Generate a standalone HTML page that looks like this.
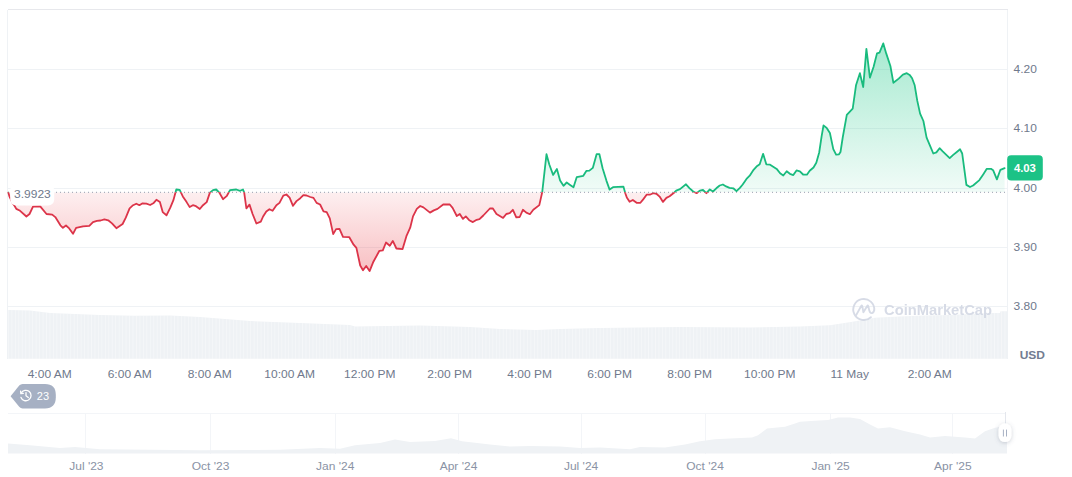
<!DOCTYPE html>
<html><head><meta charset="utf-8"><title>Chart</title>
<style>
html,body{margin:0;padding:0;background:#fff;}
body{width:1072px;height:477px;overflow:hidden;font-family:"Liberation Sans",sans-serif;}
svg{display:block;font-family:"Liberation Sans",sans-serif;}
</style></head><body>
<svg width="1072" height="477" viewBox="0 0 1072 477">
<defs>
<linearGradient id="gg" x1="0" y1="43" x2="0" y2="192.3" gradientUnits="userSpaceOnUse">
<stop offset="0" stop-color="#16c784" stop-opacity="0.38"/><stop offset="1" stop-color="#16c784" stop-opacity="0.06"/></linearGradient>
<linearGradient id="rg" x1="0" y1="192.3" x2="0" y2="272" gradientUnits="userSpaceOnUse">
<stop offset="0" stop-color="#ea3943" stop-opacity="0.08"/><stop offset="1" stop-color="#ea3943" stop-opacity="0.32"/></linearGradient>
<clipPath id="up"><rect x="0" y="0" width="1072" height="192.3"/></clipPath>
<clipPath id="dn"><rect x="0" y="192.3" width="1072" height="200"/></clipPath>
<pattern id="vb" width="3.46" height="60" patternUnits="userSpaceOnUse" x="8"><rect x="0" y="0" width="0.7" height="60" fill="#fff" fill-opacity="0.45"/></pattern>
<filter id="lb" x="-20%" y="-30%" width="140%" height="160%"><feGaussianBlur stdDeviation="0.7"/></filter>
<filter id="sh" x="-100%" y="-100%" width="300%" height="300%"><feDropShadow dx="0" dy="1" stdDeviation="2" flood-color="#58667e" flood-opacity="0.3"/></filter>
</defs>
<rect width="1072" height="477" fill="#fff"/>
<!-- frame + grid -->
<g stroke="#eff2f5" stroke-width="1" shape-rendering="crispEdges">
<line x1="7.5" y1="9.5" x2="1008" y2="9.5" stroke="#e7e8ec"/>
<line x1="7.5" y1="9.5" x2="7.5" y2="359"/>
<line x1="1007.5" y1="9.5" x2="1007.5" y2="359"/>
<line x1="8" y1="69.5" x2="1007.5" y2="69.5"/><line x1="8" y1="128.5" x2="1007.5" y2="128.5"/><line x1="8" y1="188.5" x2="1007.5" y2="188.5"/><line x1="8" y1="247.5" x2="1007.5" y2="247.5"/><line x1="8" y1="306.5" x2="1007.5" y2="306.5"/>
</g>
<!-- volume -->
<path d="M8,358.8 L8,310 L30,310.5 L50,313 L100,315 L134,315.7 L170,315.5 L200,317 L250,321 L300,323 L350,325 L355,326.5 L420,325.5 L470,327 L500,329 L536,330 L560,329 L600,328 L680,327 L750,327.5 L800,326.5 L830,325.3 L851,322 L875,317.7 L900,316.5 L925,315.6 L950,315 L991,313 L1000,313 L1000.5,311.2 L1007,311.2 L1007,358.8 Z" fill="#eff2f5"/>
<path d="M8,358.8 L8,310 L30,310.5 L50,313 L100,315 L134,315.7 L170,315.5 L200,317 L250,321 L300,323 L350,325 L355,326.5 L420,325.5 L470,327 L500,329 L536,330 L560,329 L600,328 L680,327 L750,327.5 L800,326.5 L830,325.3 L851,322 L875,317.7 L900,316.5 L925,315.6 L950,315 L991,313 L1000,313 L1000.5,311.2 L1007,311.2 L1007,358.8 Z" fill="url(#vb)"/>
<!-- watermark -->
<g id="wm" opacity="0.9">
<path d="M874.25,310.3 A10.5,10.5 0 1 0 870.9,317.2" fill="none" stroke="#d3d8e4" stroke-width="1.9" stroke-linecap="round"/>
<path d="M856.3,314.9 L861.2,306 Q861.9,304.9 862.3,306.2 L863.4,312.3 L867.2,306 Q867.9,304.9 868.3,306.2 L869.3,310.6 Q870.2,313.6 872.2,313 Q873.8,312.4 874.25,310.3" fill="none" stroke="#d3d8e4" stroke-width="1.9" stroke-linecap="round" stroke-linejoin="round"/>
<text x="884" y="315.3" font-size="14.6" font-weight="700" fill="#d3d8e4" textLength="108" lengthAdjust="spacingAndGlyphs">CoinMarketCap</text>
</g>
<!-- area fills -->
<path d="M8.3,192.3 L8.3,192.6 L9.4,196.3 L12.0,202.0 L14.8,206.2 L16.3,208.9 L20.1,210.8 L26.4,216.5 L29.5,214.0 L33.0,206.7 L40.2,206.4 L46.5,214.0 L52.2,214.6 L55.3,217.1 L60.4,225.3 L62.9,227.8 L66.0,225.5 L69.2,228.4 L73.0,233.8 L76.1,227.8 L83.0,226.3 L89.3,225.9 L93.0,222.1 L96.9,220.9 L100.6,220.5 L104.4,219.4 L108.2,220.3 L112.0,223.4 L116.4,228.2 L122.6,224.0 L125.8,217.7 L129.6,208.3 L133.1,205.2 L136.3,203.7 L139.4,205.2 L142.6,203.3 L146.4,203.7 L150.1,205.0 L153.3,203.3 L156.4,199.8 L159.9,202.1 L162.7,212.1 L166.5,215.3 L170.3,207.7 L173.4,200.2 L176.3,189.5 L179.7,189.9 L182.8,196.4 L186.6,202.1 L189.7,207.1 L192.9,205.2 L196.0,206.2 L199.8,209.0 L203.0,205.2 L206.7,202.1 L209.9,192.6 L213.0,190.1 L216.2,189.5 L219.3,192.6 L223.1,199.2 L226.9,195.8 L230.0,190.1 L236.3,189.5 L240.1,190.8 L243.0,189.5 L244.2,192.6 L246.4,208.4 L249.5,204.6 L252.6,214.0 L256.4,223.5 L260.8,221.6 L263.1,216.5 L266.3,211.4 L269.4,209.2 L272.6,210.8 L276.4,205.2 L279.5,202.9 L283.3,195.7 L286.4,194.5 L289.6,197.6 L293.0,205.8 L296.5,201.1 L300.3,198.2 L303.4,195.1 L306.5,195.5 L310.3,197.0 L313.5,197.9 L316.6,202.9 L320.1,204.5 L323.5,211.4 L326.7,212.1 L329.8,218.4 L333.2,234.1 L336.1,229.1 L339.5,228.8 L343.0,236.9 L349.3,237.2 L353.6,244.7 L356.4,247.9 L360.2,265.5 L363.0,270.2 L366.2,266.0 L369.6,271.1 L373.4,261.7 L379.4,250.8 L382.8,250.4 L386.0,242.5 L389.8,245.7 L392.8,240.9 L396.4,248.5 L402.6,249.1 L406.4,236.2 L410.2,227.7 L413.0,216.4 L416.8,208.9 L420.2,206.0 L423.4,207.4 L430.0,212.6 L433.8,210.4 L437.5,208.9 L443.2,204.5 L449.8,204.5 L452.6,207.9 L456.8,216.0 L459.8,214.0 L463.0,218.9 L465.8,216.4 L469.2,220.2 L472.9,222.1 L476.7,219.8 L479.5,219.2 L483.3,215.5 L489.9,208.5 L492.7,208.3 L496.5,214.0 L503.1,217.9 L506.3,214.0 L509.7,213.2 L512.9,209.8 L516.3,217.4 L519.7,217.0 L522.9,209.8 L526.3,212.6 L529.9,214.2 L533.3,209.8 L539.3,205.1 L542.2,192.3 L546.5,154.2 L549.3,164.5 L553.1,174.9 L556.9,168.9 L560.1,180.6 L563.5,185.8 L566.7,182.5 L570.1,184.9 L573.5,187.2 L576.7,177.2 L583.3,175.8 L586.5,170.8 L589.4,170.6 L592.8,167.9 L596.6,154.2 L599.4,154.2 L602.6,168.3 L606.4,180.6 L609.6,189.6 L613.0,187.2 L623.4,186.6 L625.3,193.2 L626.8,197.5 L629.6,201.7 L632.8,200.0 L636.6,202.8 L640.4,202.8 L643.2,199.4 L646.6,194.7 L649.8,194.7 L653.2,193.2 L656.4,193.8 L659.6,196.6 L663.0,201.9 L666.4,197.9 L669.6,196.2 L674.3,192.5 L676.2,190.6 L680.0,189.1 L686.0,184.3 L689.4,188.1 L693.2,191.5 L696.6,193.2 L699.8,190.6 L703.0,190.0 L706.4,193.2 L709.8,189.4 L713.0,191.5 L716.3,188.3 L719.7,185.5 L722.9,184.5 L726.1,186.4 L729.5,187.9 L733.3,188.3 L736.5,191.1 L739.9,187.9 L742.7,184.5 L746.5,178.9 L749.7,175.7 L753.1,170.4 L756.5,166.6 L759.7,164.3 L763.1,153.8 L766.3,164.3 L770.1,164.7 L776.7,168.9 L780.1,173.2 L783.3,175.5 L786.7,171.3 L789.9,173.8 L793.3,175.1 L796.5,170.4 L799.9,171.3 L803.1,174.5 L806.9,174.7 L809.7,170.8 L813.5,167.5 L816.3,162.8 L819.2,152.5 L821.6,136.4 L823.5,125.5 L826.7,127.9 L829.9,133.0 L833.3,149.1 L836.1,154.7 L839.0,154.3 L840.5,152.0 L842.8,137.0 L846.8,114.9 L852.7,108.7 L856.0,85.3 L859.9,73.2 L863.2,87.0 L866.4,48.9 L869.9,77.7 L873.6,66.8 L877.0,53.4 L879.5,52.6 L883.3,43.4 L886.2,53.4 L890.4,66.0 L893.4,82.8 L898.7,78.6 L902.9,74.7 L906.8,73.2 L909.6,74.9 L912.1,78.2 L914.7,85.3 L917.2,100.4 L920.1,113.6 L923.4,121.0 L926.6,137.7 L930.2,146.1 L933.3,153.5 L936.4,152.4 L939.6,148.2 L942.7,151.4 L949.7,158.1 L953.2,154.9 L956.8,152.0 L960.1,149.3 L962.2,153.5 L964.3,169.2 L966.4,184.9 L970.0,187.0 L973.1,185.5 L979.4,180.1 L983.2,174.4 L986.8,168.8 L991.0,168.8 L993.1,170.2 L996.9,179.4 L1000.4,169.8 L1004.6,168.1 L1004.6,192.3 Z" fill="url(#gg)" clip-path="url(#up)"/>
<path d="M8.3,192.3 L8.3,192.6 L9.4,196.3 L12.0,202.0 L14.8,206.2 L16.3,208.9 L20.1,210.8 L26.4,216.5 L29.5,214.0 L33.0,206.7 L40.2,206.4 L46.5,214.0 L52.2,214.6 L55.3,217.1 L60.4,225.3 L62.9,227.8 L66.0,225.5 L69.2,228.4 L73.0,233.8 L76.1,227.8 L83.0,226.3 L89.3,225.9 L93.0,222.1 L96.9,220.9 L100.6,220.5 L104.4,219.4 L108.2,220.3 L112.0,223.4 L116.4,228.2 L122.6,224.0 L125.8,217.7 L129.6,208.3 L133.1,205.2 L136.3,203.7 L139.4,205.2 L142.6,203.3 L146.4,203.7 L150.1,205.0 L153.3,203.3 L156.4,199.8 L159.9,202.1 L162.7,212.1 L166.5,215.3 L170.3,207.7 L173.4,200.2 L176.3,189.5 L179.7,189.9 L182.8,196.4 L186.6,202.1 L189.7,207.1 L192.9,205.2 L196.0,206.2 L199.8,209.0 L203.0,205.2 L206.7,202.1 L209.9,192.6 L213.0,190.1 L216.2,189.5 L219.3,192.6 L223.1,199.2 L226.9,195.8 L230.0,190.1 L236.3,189.5 L240.1,190.8 L243.0,189.5 L244.2,192.6 L246.4,208.4 L249.5,204.6 L252.6,214.0 L256.4,223.5 L260.8,221.6 L263.1,216.5 L266.3,211.4 L269.4,209.2 L272.6,210.8 L276.4,205.2 L279.5,202.9 L283.3,195.7 L286.4,194.5 L289.6,197.6 L293.0,205.8 L296.5,201.1 L300.3,198.2 L303.4,195.1 L306.5,195.5 L310.3,197.0 L313.5,197.9 L316.6,202.9 L320.1,204.5 L323.5,211.4 L326.7,212.1 L329.8,218.4 L333.2,234.1 L336.1,229.1 L339.5,228.8 L343.0,236.9 L349.3,237.2 L353.6,244.7 L356.4,247.9 L360.2,265.5 L363.0,270.2 L366.2,266.0 L369.6,271.1 L373.4,261.7 L379.4,250.8 L382.8,250.4 L386.0,242.5 L389.8,245.7 L392.8,240.9 L396.4,248.5 L402.6,249.1 L406.4,236.2 L410.2,227.7 L413.0,216.4 L416.8,208.9 L420.2,206.0 L423.4,207.4 L430.0,212.6 L433.8,210.4 L437.5,208.9 L443.2,204.5 L449.8,204.5 L452.6,207.9 L456.8,216.0 L459.8,214.0 L463.0,218.9 L465.8,216.4 L469.2,220.2 L472.9,222.1 L476.7,219.8 L479.5,219.2 L483.3,215.5 L489.9,208.5 L492.7,208.3 L496.5,214.0 L503.1,217.9 L506.3,214.0 L509.7,213.2 L512.9,209.8 L516.3,217.4 L519.7,217.0 L522.9,209.8 L526.3,212.6 L529.9,214.2 L533.3,209.8 L539.3,205.1 L542.2,192.3 L546.5,154.2 L549.3,164.5 L553.1,174.9 L556.9,168.9 L560.1,180.6 L563.5,185.8 L566.7,182.5 L570.1,184.9 L573.5,187.2 L576.7,177.2 L583.3,175.8 L586.5,170.8 L589.4,170.6 L592.8,167.9 L596.6,154.2 L599.4,154.2 L602.6,168.3 L606.4,180.6 L609.6,189.6 L613.0,187.2 L623.4,186.6 L625.3,193.2 L626.8,197.5 L629.6,201.7 L632.8,200.0 L636.6,202.8 L640.4,202.8 L643.2,199.4 L646.6,194.7 L649.8,194.7 L653.2,193.2 L656.4,193.8 L659.6,196.6 L663.0,201.9 L666.4,197.9 L669.6,196.2 L674.3,192.5 L676.2,190.6 L680.0,189.1 L686.0,184.3 L689.4,188.1 L693.2,191.5 L696.6,193.2 L699.8,190.6 L703.0,190.0 L706.4,193.2 L709.8,189.4 L713.0,191.5 L716.3,188.3 L719.7,185.5 L722.9,184.5 L726.1,186.4 L729.5,187.9 L733.3,188.3 L736.5,191.1 L739.9,187.9 L742.7,184.5 L746.5,178.9 L749.7,175.7 L753.1,170.4 L756.5,166.6 L759.7,164.3 L763.1,153.8 L766.3,164.3 L770.1,164.7 L776.7,168.9 L780.1,173.2 L783.3,175.5 L786.7,171.3 L789.9,173.8 L793.3,175.1 L796.5,170.4 L799.9,171.3 L803.1,174.5 L806.9,174.7 L809.7,170.8 L813.5,167.5 L816.3,162.8 L819.2,152.5 L821.6,136.4 L823.5,125.5 L826.7,127.9 L829.9,133.0 L833.3,149.1 L836.1,154.7 L839.0,154.3 L840.5,152.0 L842.8,137.0 L846.8,114.9 L852.7,108.7 L856.0,85.3 L859.9,73.2 L863.2,87.0 L866.4,48.9 L869.9,77.7 L873.6,66.8 L877.0,53.4 L879.5,52.6 L883.3,43.4 L886.2,53.4 L890.4,66.0 L893.4,82.8 L898.7,78.6 L902.9,74.7 L906.8,73.2 L909.6,74.9 L912.1,78.2 L914.7,85.3 L917.2,100.4 L920.1,113.6 L923.4,121.0 L926.6,137.7 L930.2,146.1 L933.3,153.5 L936.4,152.4 L939.6,148.2 L942.7,151.4 L949.7,158.1 L953.2,154.9 L956.8,152.0 L960.1,149.3 L962.2,153.5 L964.3,169.2 L966.4,184.9 L970.0,187.0 L973.1,185.5 L979.4,180.1 L983.2,174.4 L986.8,168.8 L991.0,168.8 L993.1,170.2 L996.9,179.4 L1000.4,169.8 L1004.6,168.1 L1004.6,192.3 Z" fill="url(#rg)" clip-path="url(#dn)"/>
<!-- baseline dotted -->
<line x1="8" y1="192.3" x2="1007" y2="192.3" stroke="#969eae" stroke-width="1" stroke-dasharray="1 3"/>
<!-- price line -->
<g fill="none" stroke-width="1.8" stroke-linejoin="round" stroke-linecap="round">
<path d="M8.3,192.6 L9.4,196.3 L12.0,202.0 L14.8,206.2 L16.3,208.9 L20.1,210.8 L26.4,216.5 L29.5,214.0 L33.0,206.7 L40.2,206.4 L46.5,214.0 L52.2,214.6 L55.3,217.1 L60.4,225.3 L62.9,227.8 L66.0,225.5 L69.2,228.4 L73.0,233.8 L76.1,227.8 L83.0,226.3 L89.3,225.9 L93.0,222.1 L96.9,220.9 L100.6,220.5 L104.4,219.4 L108.2,220.3 L112.0,223.4 L116.4,228.2 L122.6,224.0 L125.8,217.7 L129.6,208.3 L133.1,205.2 L136.3,203.7 L139.4,205.2 L142.6,203.3 L146.4,203.7 L150.1,205.0 L153.3,203.3 L156.4,199.8 L159.9,202.1 L162.7,212.1 L166.5,215.3 L170.3,207.7 L173.4,200.2 L176.3,189.5 L179.7,189.9 L182.8,196.4 L186.6,202.1 L189.7,207.1 L192.9,205.2 L196.0,206.2 L199.8,209.0 L203.0,205.2 L206.7,202.1 L209.9,192.6 L213.0,190.1 L216.2,189.5 L219.3,192.6 L223.1,199.2 L226.9,195.8 L230.0,190.1 L236.3,189.5 L240.1,190.8 L243.0,189.5 L244.2,192.6 L246.4,208.4 L249.5,204.6 L252.6,214.0 L256.4,223.5 L260.8,221.6 L263.1,216.5 L266.3,211.4 L269.4,209.2 L272.6,210.8 L276.4,205.2 L279.5,202.9 L283.3,195.7 L286.4,194.5 L289.6,197.6 L293.0,205.8 L296.5,201.1 L300.3,198.2 L303.4,195.1 L306.5,195.5 L310.3,197.0 L313.5,197.9 L316.6,202.9 L320.1,204.5 L323.5,211.4 L326.7,212.1 L329.8,218.4 L333.2,234.1 L336.1,229.1 L339.5,228.8 L343.0,236.9 L349.3,237.2 L353.6,244.7 L356.4,247.9 L360.2,265.5 L363.0,270.2 L366.2,266.0 L369.6,271.1 L373.4,261.7 L379.4,250.8 L382.8,250.4 L386.0,242.5 L389.8,245.7 L392.8,240.9 L396.4,248.5 L402.6,249.1 L406.4,236.2 L410.2,227.7 L413.0,216.4 L416.8,208.9 L420.2,206.0 L423.4,207.4 L430.0,212.6 L433.8,210.4 L437.5,208.9 L443.2,204.5 L449.8,204.5 L452.6,207.9 L456.8,216.0 L459.8,214.0 L463.0,218.9 L465.8,216.4 L469.2,220.2 L472.9,222.1 L476.7,219.8 L479.5,219.2 L483.3,215.5 L489.9,208.5 L492.7,208.3 L496.5,214.0 L503.1,217.9 L506.3,214.0 L509.7,213.2 L512.9,209.8 L516.3,217.4 L519.7,217.0 L522.9,209.8 L526.3,212.6 L529.9,214.2 L533.3,209.8 L539.3,205.1 L542.2,192.3 L546.5,154.2 L549.3,164.5 L553.1,174.9 L556.9,168.9 L560.1,180.6 L563.5,185.8 L566.7,182.5 L570.1,184.9 L573.5,187.2 L576.7,177.2 L583.3,175.8 L586.5,170.8 L589.4,170.6 L592.8,167.9 L596.6,154.2 L599.4,154.2 L602.6,168.3 L606.4,180.6 L609.6,189.6 L613.0,187.2 L623.4,186.6 L625.3,193.2 L626.8,197.5 L629.6,201.7 L632.8,200.0 L636.6,202.8 L640.4,202.8 L643.2,199.4 L646.6,194.7 L649.8,194.7 L653.2,193.2 L656.4,193.8 L659.6,196.6 L663.0,201.9 L666.4,197.9 L669.6,196.2 L674.3,192.5 L676.2,190.6 L680.0,189.1 L686.0,184.3 L689.4,188.1 L693.2,191.5 L696.6,193.2 L699.8,190.6 L703.0,190.0 L706.4,193.2 L709.8,189.4 L713.0,191.5 L716.3,188.3 L719.7,185.5 L722.9,184.5 L726.1,186.4 L729.5,187.9 L733.3,188.3 L736.5,191.1 L739.9,187.9 L742.7,184.5 L746.5,178.9 L749.7,175.7 L753.1,170.4 L756.5,166.6 L759.7,164.3 L763.1,153.8 L766.3,164.3 L770.1,164.7 L776.7,168.9 L780.1,173.2 L783.3,175.5 L786.7,171.3 L789.9,173.8 L793.3,175.1 L796.5,170.4 L799.9,171.3 L803.1,174.5 L806.9,174.7 L809.7,170.8 L813.5,167.5 L816.3,162.8 L819.2,152.5 L821.6,136.4 L823.5,125.5 L826.7,127.9 L829.9,133.0 L833.3,149.1 L836.1,154.7 L839.0,154.3 L840.5,152.0 L842.8,137.0 L846.8,114.9 L852.7,108.7 L856.0,85.3 L859.9,73.2 L863.2,87.0 L866.4,48.9 L869.9,77.7 L873.6,66.8 L877.0,53.4 L879.5,52.6 L883.3,43.4 L886.2,53.4 L890.4,66.0 L893.4,82.8 L898.7,78.6 L902.9,74.7 L906.8,73.2 L909.6,74.9 L912.1,78.2 L914.7,85.3 L917.2,100.4 L920.1,113.6 L923.4,121.0 L926.6,137.7 L930.2,146.1 L933.3,153.5 L936.4,152.4 L939.6,148.2 L942.7,151.4 L949.7,158.1 L953.2,154.9 L956.8,152.0 L960.1,149.3 L962.2,153.5 L964.3,169.2 L966.4,184.9 L970.0,187.0 L973.1,185.5 L979.4,180.1 L983.2,174.4 L986.8,168.8 L991.0,168.8 L993.1,170.2 L996.9,179.4 L1000.4,169.8 L1004.6,168.1" stroke="#19bb7e" clip-path="url(#up)"/>
<path d="M8.3,192.6 L9.4,196.3 L12.0,202.0 L14.8,206.2 L16.3,208.9 L20.1,210.8 L26.4,216.5 L29.5,214.0 L33.0,206.7 L40.2,206.4 L46.5,214.0 L52.2,214.6 L55.3,217.1 L60.4,225.3 L62.9,227.8 L66.0,225.5 L69.2,228.4 L73.0,233.8 L76.1,227.8 L83.0,226.3 L89.3,225.9 L93.0,222.1 L96.9,220.9 L100.6,220.5 L104.4,219.4 L108.2,220.3 L112.0,223.4 L116.4,228.2 L122.6,224.0 L125.8,217.7 L129.6,208.3 L133.1,205.2 L136.3,203.7 L139.4,205.2 L142.6,203.3 L146.4,203.7 L150.1,205.0 L153.3,203.3 L156.4,199.8 L159.9,202.1 L162.7,212.1 L166.5,215.3 L170.3,207.7 L173.4,200.2 L176.3,189.5 L179.7,189.9 L182.8,196.4 L186.6,202.1 L189.7,207.1 L192.9,205.2 L196.0,206.2 L199.8,209.0 L203.0,205.2 L206.7,202.1 L209.9,192.6 L213.0,190.1 L216.2,189.5 L219.3,192.6 L223.1,199.2 L226.9,195.8 L230.0,190.1 L236.3,189.5 L240.1,190.8 L243.0,189.5 L244.2,192.6 L246.4,208.4 L249.5,204.6 L252.6,214.0 L256.4,223.5 L260.8,221.6 L263.1,216.5 L266.3,211.4 L269.4,209.2 L272.6,210.8 L276.4,205.2 L279.5,202.9 L283.3,195.7 L286.4,194.5 L289.6,197.6 L293.0,205.8 L296.5,201.1 L300.3,198.2 L303.4,195.1 L306.5,195.5 L310.3,197.0 L313.5,197.9 L316.6,202.9 L320.1,204.5 L323.5,211.4 L326.7,212.1 L329.8,218.4 L333.2,234.1 L336.1,229.1 L339.5,228.8 L343.0,236.9 L349.3,237.2 L353.6,244.7 L356.4,247.9 L360.2,265.5 L363.0,270.2 L366.2,266.0 L369.6,271.1 L373.4,261.7 L379.4,250.8 L382.8,250.4 L386.0,242.5 L389.8,245.7 L392.8,240.9 L396.4,248.5 L402.6,249.1 L406.4,236.2 L410.2,227.7 L413.0,216.4 L416.8,208.9 L420.2,206.0 L423.4,207.4 L430.0,212.6 L433.8,210.4 L437.5,208.9 L443.2,204.5 L449.8,204.5 L452.6,207.9 L456.8,216.0 L459.8,214.0 L463.0,218.9 L465.8,216.4 L469.2,220.2 L472.9,222.1 L476.7,219.8 L479.5,219.2 L483.3,215.5 L489.9,208.5 L492.7,208.3 L496.5,214.0 L503.1,217.9 L506.3,214.0 L509.7,213.2 L512.9,209.8 L516.3,217.4 L519.7,217.0 L522.9,209.8 L526.3,212.6 L529.9,214.2 L533.3,209.8 L539.3,205.1 L542.2,192.3 L546.5,154.2 L549.3,164.5 L553.1,174.9 L556.9,168.9 L560.1,180.6 L563.5,185.8 L566.7,182.5 L570.1,184.9 L573.5,187.2 L576.7,177.2 L583.3,175.8 L586.5,170.8 L589.4,170.6 L592.8,167.9 L596.6,154.2 L599.4,154.2 L602.6,168.3 L606.4,180.6 L609.6,189.6 L613.0,187.2 L623.4,186.6 L625.3,193.2 L626.8,197.5 L629.6,201.7 L632.8,200.0 L636.6,202.8 L640.4,202.8 L643.2,199.4 L646.6,194.7 L649.8,194.7 L653.2,193.2 L656.4,193.8 L659.6,196.6 L663.0,201.9 L666.4,197.9 L669.6,196.2 L674.3,192.5 L676.2,190.6 L680.0,189.1 L686.0,184.3 L689.4,188.1 L693.2,191.5 L696.6,193.2 L699.8,190.6 L703.0,190.0 L706.4,193.2 L709.8,189.4 L713.0,191.5 L716.3,188.3 L719.7,185.5 L722.9,184.5 L726.1,186.4 L729.5,187.9 L733.3,188.3 L736.5,191.1 L739.9,187.9 L742.7,184.5 L746.5,178.9 L749.7,175.7 L753.1,170.4 L756.5,166.6 L759.7,164.3 L763.1,153.8 L766.3,164.3 L770.1,164.7 L776.7,168.9 L780.1,173.2 L783.3,175.5 L786.7,171.3 L789.9,173.8 L793.3,175.1 L796.5,170.4 L799.9,171.3 L803.1,174.5 L806.9,174.7 L809.7,170.8 L813.5,167.5 L816.3,162.8 L819.2,152.5 L821.6,136.4 L823.5,125.5 L826.7,127.9 L829.9,133.0 L833.3,149.1 L836.1,154.7 L839.0,154.3 L840.5,152.0 L842.8,137.0 L846.8,114.9 L852.7,108.7 L856.0,85.3 L859.9,73.2 L863.2,87.0 L866.4,48.9 L869.9,77.7 L873.6,66.8 L877.0,53.4 L879.5,52.6 L883.3,43.4 L886.2,53.4 L890.4,66.0 L893.4,82.8 L898.7,78.6 L902.9,74.7 L906.8,73.2 L909.6,74.9 L912.1,78.2 L914.7,85.3 L917.2,100.4 L920.1,113.6 L923.4,121.0 L926.6,137.7 L930.2,146.1 L933.3,153.5 L936.4,152.4 L939.6,148.2 L942.7,151.4 L949.7,158.1 L953.2,154.9 L956.8,152.0 L960.1,149.3 L962.2,153.5 L964.3,169.2 L966.4,184.9 L970.0,187.0 L973.1,185.5 L979.4,180.1 L983.2,174.4 L986.8,168.8 L991.0,168.8 L993.1,170.2 L996.9,179.4 L1000.4,169.8 L1004.6,168.1" stroke="#dc3449" clip-path="url(#dn)"/>
</g>
<!-- open price label -->
<rect x="10.2" y="184.2" width="44" height="21.2" rx="6" fill="#fff" filter="url(#lb)"/>
<text transform="translate(14,197.8) scale(1,0.88)" font-size="12" fill="#6f798c" textLength="36.8" lengthAdjust="spacingAndGlyphs">3.9923</text>
<!-- y labels -->
<g font-size="12" fill="#6f798c"><text transform="translate(1013.6,73.0) scale(1,0.88)" text-anchor="start">4.20</text><text transform="translate(1013.6,132.2) scale(1,0.88)" text-anchor="start">4.10</text><text transform="translate(1013.6,191.8) scale(1,0.88)" text-anchor="start">4.00</text><text transform="translate(1013.6,250.8) scale(1,0.88)" text-anchor="start">3.90</text><text transform="translate(1013.6,310.0) scale(1,0.88)" text-anchor="start">3.80</text></g>
<!-- current price badge -->
<rect x="1007.2" y="155.2" width="35.6" height="25.3" rx="4" fill="#1cc286"/>
<text x="1013.9" y="171.5" font-size="11" font-weight="700" fill="#fff" textLength="22" lengthAdjust="spacingAndGlyphs">4.03</text>
<text transform="translate(1019.7,359) scale(1,0.9)" font-size="12" font-weight="700" fill="#727c91">USD</text>
<!-- x labels -->
<g font-size="12" fill="#6f798c"><text transform="translate(49.7,378.4) scale(1,0.88)" text-anchor="middle">4:00 AM</text><text transform="translate(129.7,378.4) scale(1,0.88)" text-anchor="middle">6:00 AM</text><text transform="translate(209.7,378.4) scale(1,0.88)" text-anchor="middle">8:00 AM</text><text transform="translate(289.7,378.4) scale(1,0.88)" text-anchor="middle">10:00 AM</text><text transform="translate(369.7,378.4) scale(1,0.88)" text-anchor="middle">12:00 PM</text><text transform="translate(449.7,378.4) scale(1,0.88)" text-anchor="middle">2:00 PM</text><text transform="translate(529.7,378.4) scale(1,0.88)" text-anchor="middle">4:00 PM</text><text transform="translate(609.7,378.4) scale(1,0.88)" text-anchor="middle">6:00 PM</text><text transform="translate(689.7,378.4) scale(1,0.88)" text-anchor="middle">8:00 PM</text><text transform="translate(769.7,378.4) scale(1,0.88)" text-anchor="middle">10:00 PM</text><text transform="translate(849.7,378.4) scale(1,0.88)" text-anchor="middle">11 May</text><text transform="translate(929.7,378.4) scale(1,0.88)" text-anchor="middle">2:00 AM</text></g>
<!-- history badge -->
<path d="M10.6,396.2 L19.2,385.6 Q20.6,384 22.6,384 L45,384 Q55.8,384 55.8,394.8 L55.8,397.6 Q55.8,408.4 45,408.4 L22.6,408.4 Q20.6,408.4 19.2,406.8 Z" fill="#a6b0c3"/>
<g fill="none" stroke="#fff" stroke-width="1.3" stroke-linecap="round" stroke-linejoin="round">
<path d="M21.2,393.2 A5.2,5.2 0 1 1 21.0,397.4"/>
<path d="M20.6,391.2 L20.9,393.7 L23.3,393.3"/>
<path d="M26,392.6 L26,395.8 L28.3,397.6"/>
</g>
<text x="36.8" y="399.6" font-size="11" fill="#fff">23</text>
<!-- navigator -->
<g stroke="#f3f5f8" stroke-width="1" shape-rendering="crispEdges">
<line x1="8" y1="413.5" x2="1006" y2="413.5"/>
<line x1="85.3" y1="413.5" x2="85.3" y2="453.6"/><line x1="210.5" y1="413.5" x2="210.5" y2="453.6"/><line x1="335.1" y1="413.5" x2="335.1" y2="453.6"/><line x1="458.2" y1="413.5" x2="458.2" y2="453.6"/><line x1="581.1" y1="413.5" x2="581.1" y2="453.6"/><line x1="705.1" y1="413.5" x2="705.1" y2="453.6"/><line x1="830.4" y1="413.5" x2="830.4" y2="453.6"/><line x1="952.9" y1="413.5" x2="952.9" y2="453.6"/>
</g>
<path d="M8,453.6 L8,443.6 L30,445.3 L60,448 L75,447 L100,449.3 L200,450.3 L280,449.7 L320,448 L340,448.7 L355,445.3 L380,443 L395,439.6 L410,442 L435,441 L451,438.2 L462,441.3 L490,444.6 L510,446.6 L530,446 L560,446.6 L580,448 L600,447.6 L630,449.3 L640,447 L665,447.6 L685,444.6 L700,441.3 L715,439.2 L730,438.6 L752,437.6 L758,435.2 L767,428.5 L785,426.8 L795,423.5 L800,421.8 L815,420.8 L828,420.1 L838,417.4 L850,417.4 L860,419.1 L870,424.5 L878,428.5 L890,427.2 L905,431.2 L920,434.5 L930,437.6 L945,435.9 L965,437.6 L975,438.6 L985,431.2 L995,427.8 L1007,425.8 L1007,453.6 Z" fill="#eff2f5"/>
<line x1="1005.5" y1="412" x2="1005.5" y2="424" stroke="#e4e7ed" stroke-width="1"/>
<rect x="998.5" y="423.3" width="13" height="18.8" rx="6.5" fill="#fff" filter="url(#sh)"/>
<line x1="1003.4" y1="429.6" x2="1003.4" y2="436.5" stroke="#a6b0c3" stroke-width="1"/>
<line x1="1006.5" y1="429.6" x2="1006.5" y2="436.5" stroke="#a6b0c3" stroke-width="1"/>
<g font-size="12" fill="#8a93a5"><text transform="translate(86.4,470.1) scale(1,0.88)" text-anchor="middle">Jul '23</text><text transform="translate(210.5,470.1) scale(1,0.88)" text-anchor="middle">Oct '23</text><text transform="translate(335.2,470.1) scale(1,0.88)" text-anchor="middle">Jan '24</text><text transform="translate(458.5,470.1) scale(1,0.88)" text-anchor="middle">Apr '24</text><text transform="translate(581.1,470.1) scale(1,0.88)" text-anchor="middle">Jul '24</text><text transform="translate(705.1,470.1) scale(1,0.88)" text-anchor="middle">Oct '24</text><text transform="translate(830.6,470.1) scale(1,0.88)" text-anchor="middle">Jan '25</text><text transform="translate(952.8,470.1) scale(1,0.88)" text-anchor="middle">Apr '25</text></g>
</svg>
</body></html>
